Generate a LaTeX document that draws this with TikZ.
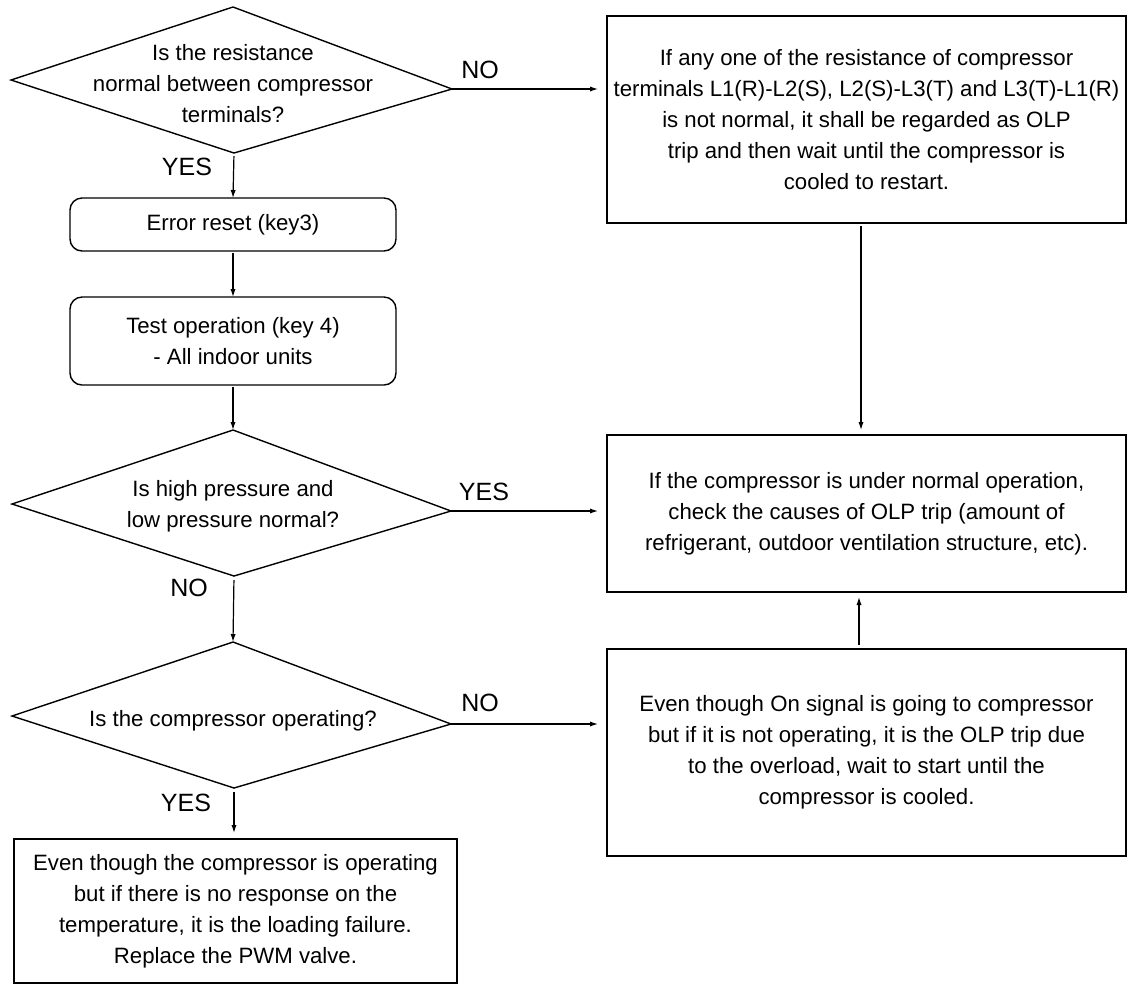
\documentclass[tikz,border=0pt]{standalone}
\usepackage{fontspec}
\setmainfont{Liberation Sans}
\usetikzlibrary{arrows.meta}
\begin{document}
\begin{tikzpicture}[x=0.5pt,y=-0.5pt,
  every node/.style={inner sep=0pt, outer sep=0pt},
  txt/.style={font=\fontsize{11.1}{15.5}\selectfont, align=center},
  box/.style={draw, line width=0.7pt, txt},
  rbox/.style={box, rounded corners=6pt},
  lbl/.style={font=\fontsize{12.5}{14}\selectfont},
  flow/.style={-{Latex[length=4pt,width=2.6pt]}, line width=0.6pt},
  dshape/.style={draw, line width=0.7pt, line join=miter}
]
\useasboundingbox (0,0) rectangle (1128,987);

% decision 1
\coordinate (d1t) at (233,7);
\coordinate (d1l) at (11,80);
\coordinate (d1r) at (452,89);
\coordinate (d1b) at (234,153);
\draw[dshape] (d1t) -- (d1r) -- (d1b) -- (d1l) -- cycle;
\node[txt] (q1) at (233,84) {Is the resistance\\normal between compressor\\terminals?};

% decision 2
\coordinate (d2t) at (233,430);
\coordinate (d2l) at (12,504);
\coordinate (d2r) at (451,511);
\coordinate (d2b) at (234,576);
\draw[dshape] (d2t) -- (d2r) -- (d2b) -- (d2l) -- cycle;
\node[txt] (q2) at (233,506) {Is high pressure and\\low pressure normal?};

% decision 3
\coordinate (d3t) at (233,642);
\coordinate (d3l) at (12,716);
\coordinate (d3r) at (451,724);
\coordinate (d3b) at (234,788);
\draw[dshape] (d3t) -- (d3r) -- (d3b) -- (d3l) -- cycle;
\node[txt] (q3) at (233,721) {Is the compressor operating?};

% process steps
\node[rbox, minimum width=163pt, minimum height=26.5pt] (err) at (233,224.5) {Error reset (key3)};
\node[rbox, minimum width=163pt, minimum height=44pt] (test) at (233,341) {Test operation (key 4)\\- All indoor units};

% result boxes
\node[box, minimum width=259.5pt, minimum height=103.5pt] (r1) at (866.5,119.5)
  {If any one of the resistance of compressor\\terminals L1(R)-L2(S), L2(S)-L3(T) and L3(T)-L1(R)\\is not normal, it shall be regarded as OLP\\trip and then wait until the compressor is\\cooled to restart.};
\node[box, minimum width=259.5pt, minimum height=78.5pt] (r2) at (866.5,513.5)
  {If the compressor is under normal operation,\\check the causes of OLP trip (amount of\\refrigerant, outdoor ventilation structure, etc).};
\node[box, minimum width=259.5pt, minimum height=103.5pt] (r3) at (866.5,752.5)
  {Even though On signal is going to compressor\\but if it is not operating, it is the OLP trip due\\to the overload, wait to start until the\\compressor is cooled.};
\node[box, minimum width=221.5pt, minimum height=72pt] (r4) at (235.5,911)
  {Even though the compressor is operating\\but if there is no response on the\\temperature, it is the loading failure.\\Replace the PWM valve.};

% branch labels
\node[lbl] (no1) at (480,70) {NO};
\node[lbl] (yes1) at (187,167) {YES};
\node[lbl] (yes2) at (484,492) {YES};
\node[lbl] (no2) at (189,588) {NO};
\node[lbl] (no3) at (480,703) {NO};
\node[lbl] (yes3) at (186,803) {YES};

% connectors
\draw[flow, shorten <=1.5pt] (d1b) -- (err.north);
\draw[flow, shorten <=1pt] (err.south) -- (test.north);
\draw[flow, shorten <=1pt] (test.south) -- (d2t);
\draw[flow, shorten <=2pt] (d2b) -- (d3t);
\draw[flow, shorten <=2pt, shorten >=3pt] (d3b) -- (r4.north -| d3b);
\draw[flow, shorten >=4.5pt] (d1r) -- (r1.west |- d1r);
\draw[flow, shorten >=4.5pt] (d2r) -- (r2.west |- d2r);
\draw[flow, shorten >=4.5pt] (d3r) -- (r3.west |- d3r);
\draw[flow, shorten <=1.5pt, shorten >=2.5pt] ([xshift=-2.75pt]r1.south) -- ([xshift=-2.75pt]r2.north);
\draw[flow, shorten <=2pt, shorten >=2.5pt] ([xshift=-3.75pt]r3.north) -- ([xshift=-3.75pt]r2.south);
\end{tikzpicture}
\end{document}
